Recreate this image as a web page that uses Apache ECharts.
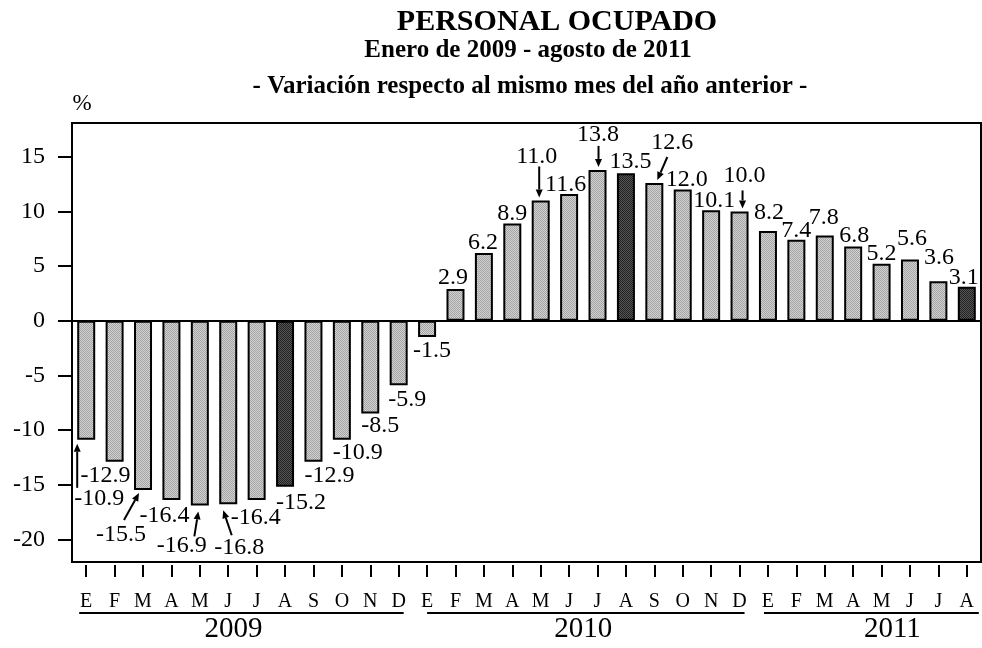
<!DOCTYPE html>
<html>
<head>
<meta charset="utf-8">
<script src="https://cdn.jsdelivr.net/npm/echarts@6/dist/echarts.min.js"></script>
<style>
html, body { margin: 0; padding: 0; background: #fff; }
#main { width: 982px; height: 648px; }
</style>
</head>
<body>
<div id="main"></div>
<script>
// data
var months = ['E', 'F', 'M', 'A', 'M', 'J', 'J', 'A', 'S', 'O', 'N', 'D'];
var years = ['2009', '2010', '2011'];
var monthsPerYear = [12, 12, 8];
var values = [
    -10.9, -12.9, -15.5, -16.4, -16.9, -16.8, -16.4, -15.2, -12.9, -10.9, -8.5, -5.9,
    -1.5, 2.9, 6.2, 8.9, 11.0, 11.6, 13.8, 13.5, 12.6, 12.0, 10.1, 10.0,
    8.2, 7.4, 7.8, 6.8, 5.2, 5.6, 3.6, 3.1
];
var yTicks = [-20, -15, -10, -5, 0, 5, 10, 15];

// label placement relative to the bar end (px), and arrows [x1, y1, x2, y2]
var labelOffsets = [
    [13, 59], [-9, 14], [-22, 45], [-7, 15.5], [-18, 40], [11, 43], [-1, 17.5], [16, 15.5],
    [16, 14], [16, 12.5], [10, 12.5], [8.5, 15], [5, 14], [-2.5, -11], [-1, -10], [0, -10],
    [-4, -44], [-3.5, -9], [0.5, -35], [4.5, -11.5], [18, -40], [4, -10], [3, -10], [5, -36],
    [1, -18.5], [0, -9.5], [-1, -18], [1, -11], [0, -10], [2, -20.5], [0.5, -24], [-3, -9.5]
];
var arrows = {
    0: [-9, 48, -9, 4],
    2: [-19, 30, -4, 3],
    4: [-5.5, 31, -1.5, 6],
    5: [3.5, 31, -5, 6],
    16: [-1.5, -34, -1.5, -3],
    18: [1, -24, 1, -3],
    20: [13, -26, 3, -3],
    23: [3, -21, 3, -3]
};
var yearOffsets = [[-7, 5, -9], [0, 5, 0], [-4, 12, 25]];

var FONT = '"Liberation Serif", "Times New Roman", serif';
var yMin = -22.08, yMax = 18.09;

var categories = [];
years.forEach(function(y, k) {
    for (var m = 0; m < monthsPerYear[k]; m++) categories.push(y + '-' + months[m]);
});

var yearSpans = [];
var start = 0;
monthsPerYear.forEach(function(n) {
    yearSpans.push([start, start + n - 1, 0]);
    start += n;
});

function makePattern(c1, c2) {
    var cv = document.createElement('canvas');
    cv.width = 2; cv.height = 2;
    var ctx = cv.getContext('2d');
    ctx.fillStyle = c1; ctx.fillRect(0, 0, 2, 2);
    ctx.fillStyle = c2; ctx.fillRect(0, 0, 1, 1); ctx.fillRect(1, 1, 1, 1);
    return { image: cv, repeat: 'repeat' };
}
var light = makePattern('#d2d2d2', '#a4a4a4');
var dark = makePattern('#555555', '#222222');

var chart = echarts.init(document.getElementById('main'));

var option = {
    animation: false,
    backgroundColor: '#fff',
    graphic: [
        { type: 'text', x: 557, y: 22, style: { text: 'PERSONAL OCUPADO', font: 'bold 30px ' + FONT, fill: '#000', align: 'center', verticalAlign: 'middle' } },
        { type: 'text', x: 528, y: 51, style: { text: 'Enero de 2009 - agosto de 2011', font: 'bold 25px ' + FONT, fill: '#000', align: 'center', verticalAlign: 'middle' } },
        { type: 'text', x: 530, y: 87, style: { text: '- Variación respecto al mismo mes del año anterior -', font: 'bold 25px ' + FONT, fill: '#000', align: 'center', verticalAlign: 'middle' } },
        { type: 'text', x: 82, y: 104, style: { text: '%', font: '23px ' + FONT, fill: '#000', align: 'center', verticalAlign: 'middle' } }
    ],
    grid: {
        left: 72,
        right: 1,
        top: 123,
        bottom: 86,
        show: true,
        borderColor: '#000',
        borderWidth: 2,
        backgroundColor: 'transparent'
    },
    xAxis: {
        type: 'category',
        data: categories,
        offset: 3,
        axisLine: { show: false, onZero: false },
        axisTick: {
            show: true,
            alignWithLabel: true,
            interval: 0,
            length: 12,
            lineStyle: { color: '#000', width: 2 }
        },
        axisLabel: {
            interval: 0,
            margin: 27,
            color: '#000',
            fontSize: 20,
            fontFamily: FONT,
            formatter: function(v) { return v.split('-')[1]; }
        }
    },
    yAxis: {
        type: 'value',
        min: yMin,
        max: yMax,
        axisLine: { show: false },
        splitLine: { show: false },
        axisTick: {
            show: true,
            length: 14,
            customValues: yTicks,
            lineStyle: { color: '#000', width: 2 }
        },
        axisLabel: {
            customValues: yTicks,
            margin: 27,
            color: '#000',
            fontSize: 24,
            fontFamily: FONT
        }
    },
    series: [
        {
            type: 'bar',
            barWidth: 18,
            data: values.map(function(v, i) {
                return { value: v, itemStyle: { color: i % 12 === 7 ? dark : light } };
            }),
            itemStyle: { borderColor: '#000', borderWidth: 2 },
            markLine: {
                silent: true,
                symbol: 'none',
                label: { show: false },
                lineStyle: { color: '#000', width: 2, type: 'solid' },
                data: [{ yAxis: 0 }]
            }
        },
        {
            // value labels with arrows
            type: 'custom',
            clip: false,
            z: 5,
            encode: { x: 0, y: 1 },
            data: values.map(function(v, i) { return [i, v]; }),
            renderItem: function(params, api) {
                var i = params.dataIndex;
                var p = api.coord([api.value(0), api.value(1)]);
                var off = labelOffsets[i];
                var children = [{
                    type: 'text',
                    style: {
                        x: p[0] + off[0],
                        y: p[1] + off[1],
                        text: values[i].toFixed(1),
                        fill: '#000',
                        font: '24px ' + FONT,
                        align: 'center',
                        verticalAlign: 'middle'
                    }
                }];
                var a = arrows[i];
                if (a) {
                    var x1 = p[0] + a[0], y1 = p[1] + a[1], x2 = p[0] + a[2], y2 = p[1] + a[3];
                    var dx = x2 - x1, dy = y2 - y1, len = Math.sqrt(dx * dx + dy * dy);
                    var ux = dx / len, uy = dy / len, hl = 8, hw = 3.5;
                    var bx = x2 - ux * hl, by = y2 - uy * hl;
                    children.push({
                        type: 'line',
                        shape: { x1: x1, y1: y1, x2: bx, y2: by },
                        style: { stroke: '#000', lineWidth: 2 }
                    });
                    children.push({
                        type: 'polygon',
                        shape: { points: [[x2, y2], [bx - uy * hw, by + ux * hw], [bx + uy * hw, by - ux * hw]] },
                        style: { fill: '#000' }
                    });
                }
                return { type: 'group', children: children };
            }
        },
        {
            // year underlines and names
            type: 'custom',
            clip: false,
            encode: { x: [0, 1], y: 2 },
            data: yearSpans,
            renderItem: function(params, api) {
                var k = params.dataIndex;
                var o = yearOffsets[k];
                var p1 = api.coord([api.value(0), yMin]);
                var p2 = api.coord([api.value(1), yMin]);
                return {
                    type: 'group',
                    children: [
                        {
                            type: 'line',
                            shape: { x1: p1[0] + o[0], y1: p1[1] + 51, x2: p2[0] + o[1], y2: p1[1] + 51 },
                            style: { stroke: '#000', lineWidth: 2 }
                        },
                        {
                            type: 'text',
                            style: {
                                x: (p1[0] + p2[0]) / 2 + o[2],
                                y: p1[1] + 67,
                                text: years[k],
                                fill: '#000',
                                font: '29px ' + FONT,
                                align: 'center',
                                verticalAlign: 'middle'
                            }
                        }
                    ]
                };
            }
        }
    ]
};
chart.setOption(option);
</script>
</body>
</html>
